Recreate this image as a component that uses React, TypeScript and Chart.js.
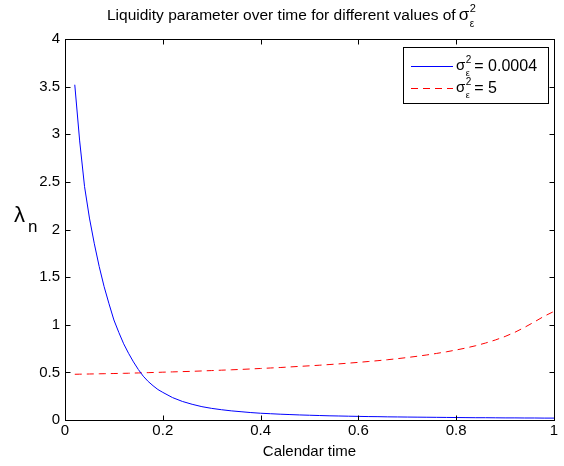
import React, { useEffect, useRef } from "react";
import { Chart, registerables } from "chart.js";

Chart.register(...registerables);

const times = [
  0.02, 0.03, 0.04, 0.05, 0.06, 0.07, 0.08, 0.09, 0.1, 0.11,
  0.12, 0.13, 0.14, 0.15, 0.16, 0.17, 0.18, 0.19, 0.2,
  0.22, 0.24, 0.26, 0.28, 0.3, 0.32, 0.34, 0.36, 0.38, 0.4,
  0.42, 0.44, 0.46, 0.48, 0.5, 0.52, 0.54, 0.56, 0.58, 0.6,
  0.62, 0.64, 0.66, 0.68, 0.7, 0.72, 0.74, 0.76, 0.78, 0.8,
  0.82, 0.84, 0.86, 0.88, 0.9, 0.92, 0.94, 0.96, 0.98, 1.0,
];

const lambdaSmallNoise = [
  3.52, 2.93, 2.45, 2.12, 1.85, 1.61, 1.4, 1.22, 1.05, 0.92,
  0.8, 0.7, 0.61, 0.53, 0.46, 0.405, 0.36, 0.32, 0.29,
  0.235, 0.195, 0.165, 0.14, 0.122, 0.108, 0.096, 0.087, 0.078, 0.071,
  0.066, 0.061, 0.057, 0.053, 0.05, 0.047, 0.044, 0.042, 0.04, 0.038,
  0.036, 0.035, 0.033, 0.032, 0.031, 0.03, 0.029, 0.028, 0.027, 0.026,
  0.025, 0.024, 0.024, 0.023, 0.022, 0.022, 0.021, 0.021, 0.02, 0.02,
];

const lambdaLargeNoise = [
  0.48, 0.481, 0.482, 0.483, 0.484, 0.485, 0.486, 0.487, 0.488, 0.489,
  0.49, 0.491, 0.493, 0.494, 0.496, 0.497, 0.499, 0.5, 0.502,
  0.505, 0.508, 0.511, 0.515, 0.519, 0.523, 0.527, 0.531, 0.536, 0.541,
  0.546, 0.551, 0.557, 0.563, 0.569, 0.575, 0.582, 0.589, 0.597, 0.605,
  0.614, 0.623, 0.633, 0.644, 0.656, 0.669, 0.683, 0.699, 0.716, 0.735,
  0.756, 0.78, 0.808, 0.84, 0.877, 0.921, 0.973, 1.03, 1.09, 1.14,
];

const xTicks = [0, 0.2, 0.4, 0.6, 0.8, 1];
const yTicks = [0, 0.5, 1, 1.5, 2, 2.5, 3, 3.5, 4];

const titleText = "Liquidity parameter over time for different values of";
const xLabelText = "Calendar time";
const legendValues = ["0.0004", "5"];
const seriesColors = ["#0000ff", "#ff0000"];

const FONT = "'Liberation Sans', Arial, Helvetica, sans-serif";

function drawSigmaEps(ctx: CanvasRenderingContext2D, x: number, baseline: number, size: number): number {
  ctx.font = `${size}px ${FONT}`;
  ctx.textAlign = "left";
  ctx.textBaseline = "alphabetic";
  ctx.fillText("σ", x, baseline);
  const sw = ctx.measureText("σ").width;
  const sx = x + sw + 0.5;
  const small = Math.round(size * 0.64);
  ctx.font = `${small}px ${FONT}`;
  ctx.fillText("2", sx, baseline - size * 0.45);
  const w2 = ctx.measureText("2").width;
  ctx.font = `${Math.round(size * 0.58)}px ${FONT}`;
  ctx.fillText("ε", sx, baseline + size * 0.42);
  const we = ctx.measureText("ε").width;
  return sx + Math.max(w2, we);
}

const decorPlugin = {
  id: "decor",
  afterDraw(chart: any) {
    const { ctx, chartArea } = chart;
    const xs = chart.scales.x;
    const ys = chart.scales.y;
    const L = Math.round(chartArea.left) + 0.5;
    const R = Math.round(chartArea.right) + 0.5;
    const T = Math.round(chartArea.top) + 0.5;
    const B = Math.round(chartArea.bottom) + 0.5;
    ctx.save();
    ctx.strokeStyle = "#000";
    ctx.lineWidth = 1;
    ctx.setLineDash([]);
    ctx.strokeRect(L, T, R - L, B - T);
    const tl = 5;
    ctx.beginPath();
    xTicks.forEach((v) => {
      const px = Math.round(xs.getPixelForValue(v)) + 0.5;
      ctx.moveTo(px, B);
      ctx.lineTo(px, B - tl);
      ctx.moveTo(px, T);
      ctx.lineTo(px, T + tl);
    });
    yTicks.forEach((v) => {
      const py = Math.round(ys.getPixelForValue(v)) + 0.5;
      ctx.moveTo(L, py);
      ctx.lineTo(L + tl, py);
      ctx.moveTo(R, py);
      ctx.lineTo(R - tl, py);
    });
    ctx.stroke();

    ctx.fillStyle = "#000";
    // title
    ctx.font = `15.5px ${FONT}`;
    ctx.textAlign = "left";
    ctx.textBaseline = "alphabetic";
    const tx = 107;
    ctx.fillText(titleText, tx, 20);
    const tw = ctx.measureText(titleText).width;
    drawSigmaEps(ctx, tx + tw + 3, 20, 17);

    // x label
    ctx.font = `15px ${FONT}`;
    ctx.textAlign = "center";
    ctx.fillText(xLabelText, (chartArea.left + chartArea.right) / 2, 456);

    // y label
    ctx.textAlign = "left";
    ctx.font = `22px ${FONT}`;
    ctx.fillText("λ", 14, 222);
    ctx.font = `17px ${FONT}`;
    ctx.fillText("n", 28, 232);

    // legend
    const bx = 403.5, by = 47.5, bw = 145, bh = 56;
    ctx.fillStyle = "#fff";
    ctx.fillRect(bx, by, bw, bh);
    ctx.strokeStyle = "#000";
    ctx.strokeRect(bx, by, bw, bh);
    const rows = [66, 88];
    rows.forEach((ry, i) => {
      ctx.strokeStyle = seriesColors[i];
      ctx.setLineDash(i === 1 ? [7, 5] : []);
      ctx.beginPath();
      ctx.moveTo(411, ry + 0.5);
      ctx.lineTo(453, ry + 0.5);
      ctx.stroke();
      ctx.setLineDash([]);
      ctx.fillStyle = "#000";
      const endX = drawSigmaEps(ctx, 456, ry + 4, 15);
      ctx.font = `16px ${FONT}`;
      ctx.textAlign = "left";
      ctx.textBaseline = "alphabetic";
      ctx.fillText("= " + legendValues[i], endX + 3, ry + 5);
    });
    ctx.restore();
  },
};

export default function App() {
  const canvasRef = useRef<HTMLCanvasElement | null>(null);

  useEffect(() => {
    const canvas = canvasRef.current;
    if (!canvas) return;
    const chart = new Chart(canvas, {
      type: "line",
      data: {
        datasets: [
          {
            label: "σ² = " + legendValues[0],
            data: times.map((t, i) => ({ x: t, y: lambdaSmallNoise[i] })),
            borderColor: seriesColors[0],
            borderWidth: 1,
            pointRadius: 0,
            tension: 0,
            fill: false,
          },
          {
            label: "σ² = " + legendValues[1],
            data: times.map((t, i) => ({ x: t, y: lambdaLargeNoise[i] })),
            borderColor: seriesColors[1],
            borderWidth: 1,
            borderDash: [7, 5],
            pointRadius: 0,
            tension: 0,
            fill: false,
          },
        ],
      },
      options: {
        animation: false,
        responsive: false,
        devicePixelRatio: 1,
        layout: { padding: { top: 39, right: 10, left: 0, bottom: 0 } },
        plugins: {
          legend: { display: false },
          title: { display: false },
          tooltip: { enabled: false },
        },
        scales: {
          x: {
            type: "linear",
            min: 0,
            max: 1,
            afterFit: (s: any) => {
              s.height = 46;
            },
            afterBuildTicks: (s: any) => {
              s.ticks = xTicks.map((v) => ({ value: v }));
            },
            ticks: {
              color: "#000",
              font: { family: FONT, size: 15 },
              padding: 2,
              maxRotation: 0,
              callback: (v: any) => String(v),
            },
            grid: { display: false, drawTicks: false },
            border: { display: false },
          },
          y: {
            type: "linear",
            min: 0,
            max: 4,
            afterFit: (s: any) => {
              s.width = 65;
            },
            afterBuildTicks: (s: any) => {
              s.ticks = yTicks.map((v) => ({ value: v }));
            },
            ticks: {
              color: "#000",
              font: { family: FONT, size: 15 },
              padding: 5,
              callback: (v: any) => String(v),
            },
            grid: { display: false, drawTicks: false },
            border: { display: false },
          },
        },
      },
      plugins: [decorPlugin],
    });
    return () => chart.destroy();
  }, []);

  return (
    <div style={{ position: "fixed", left: 0, top: 0, width: 564, height: 466, background: "#fff" }}>
      <canvas ref={canvasRef} width={564} height={466} />
    </div>
  );
}
